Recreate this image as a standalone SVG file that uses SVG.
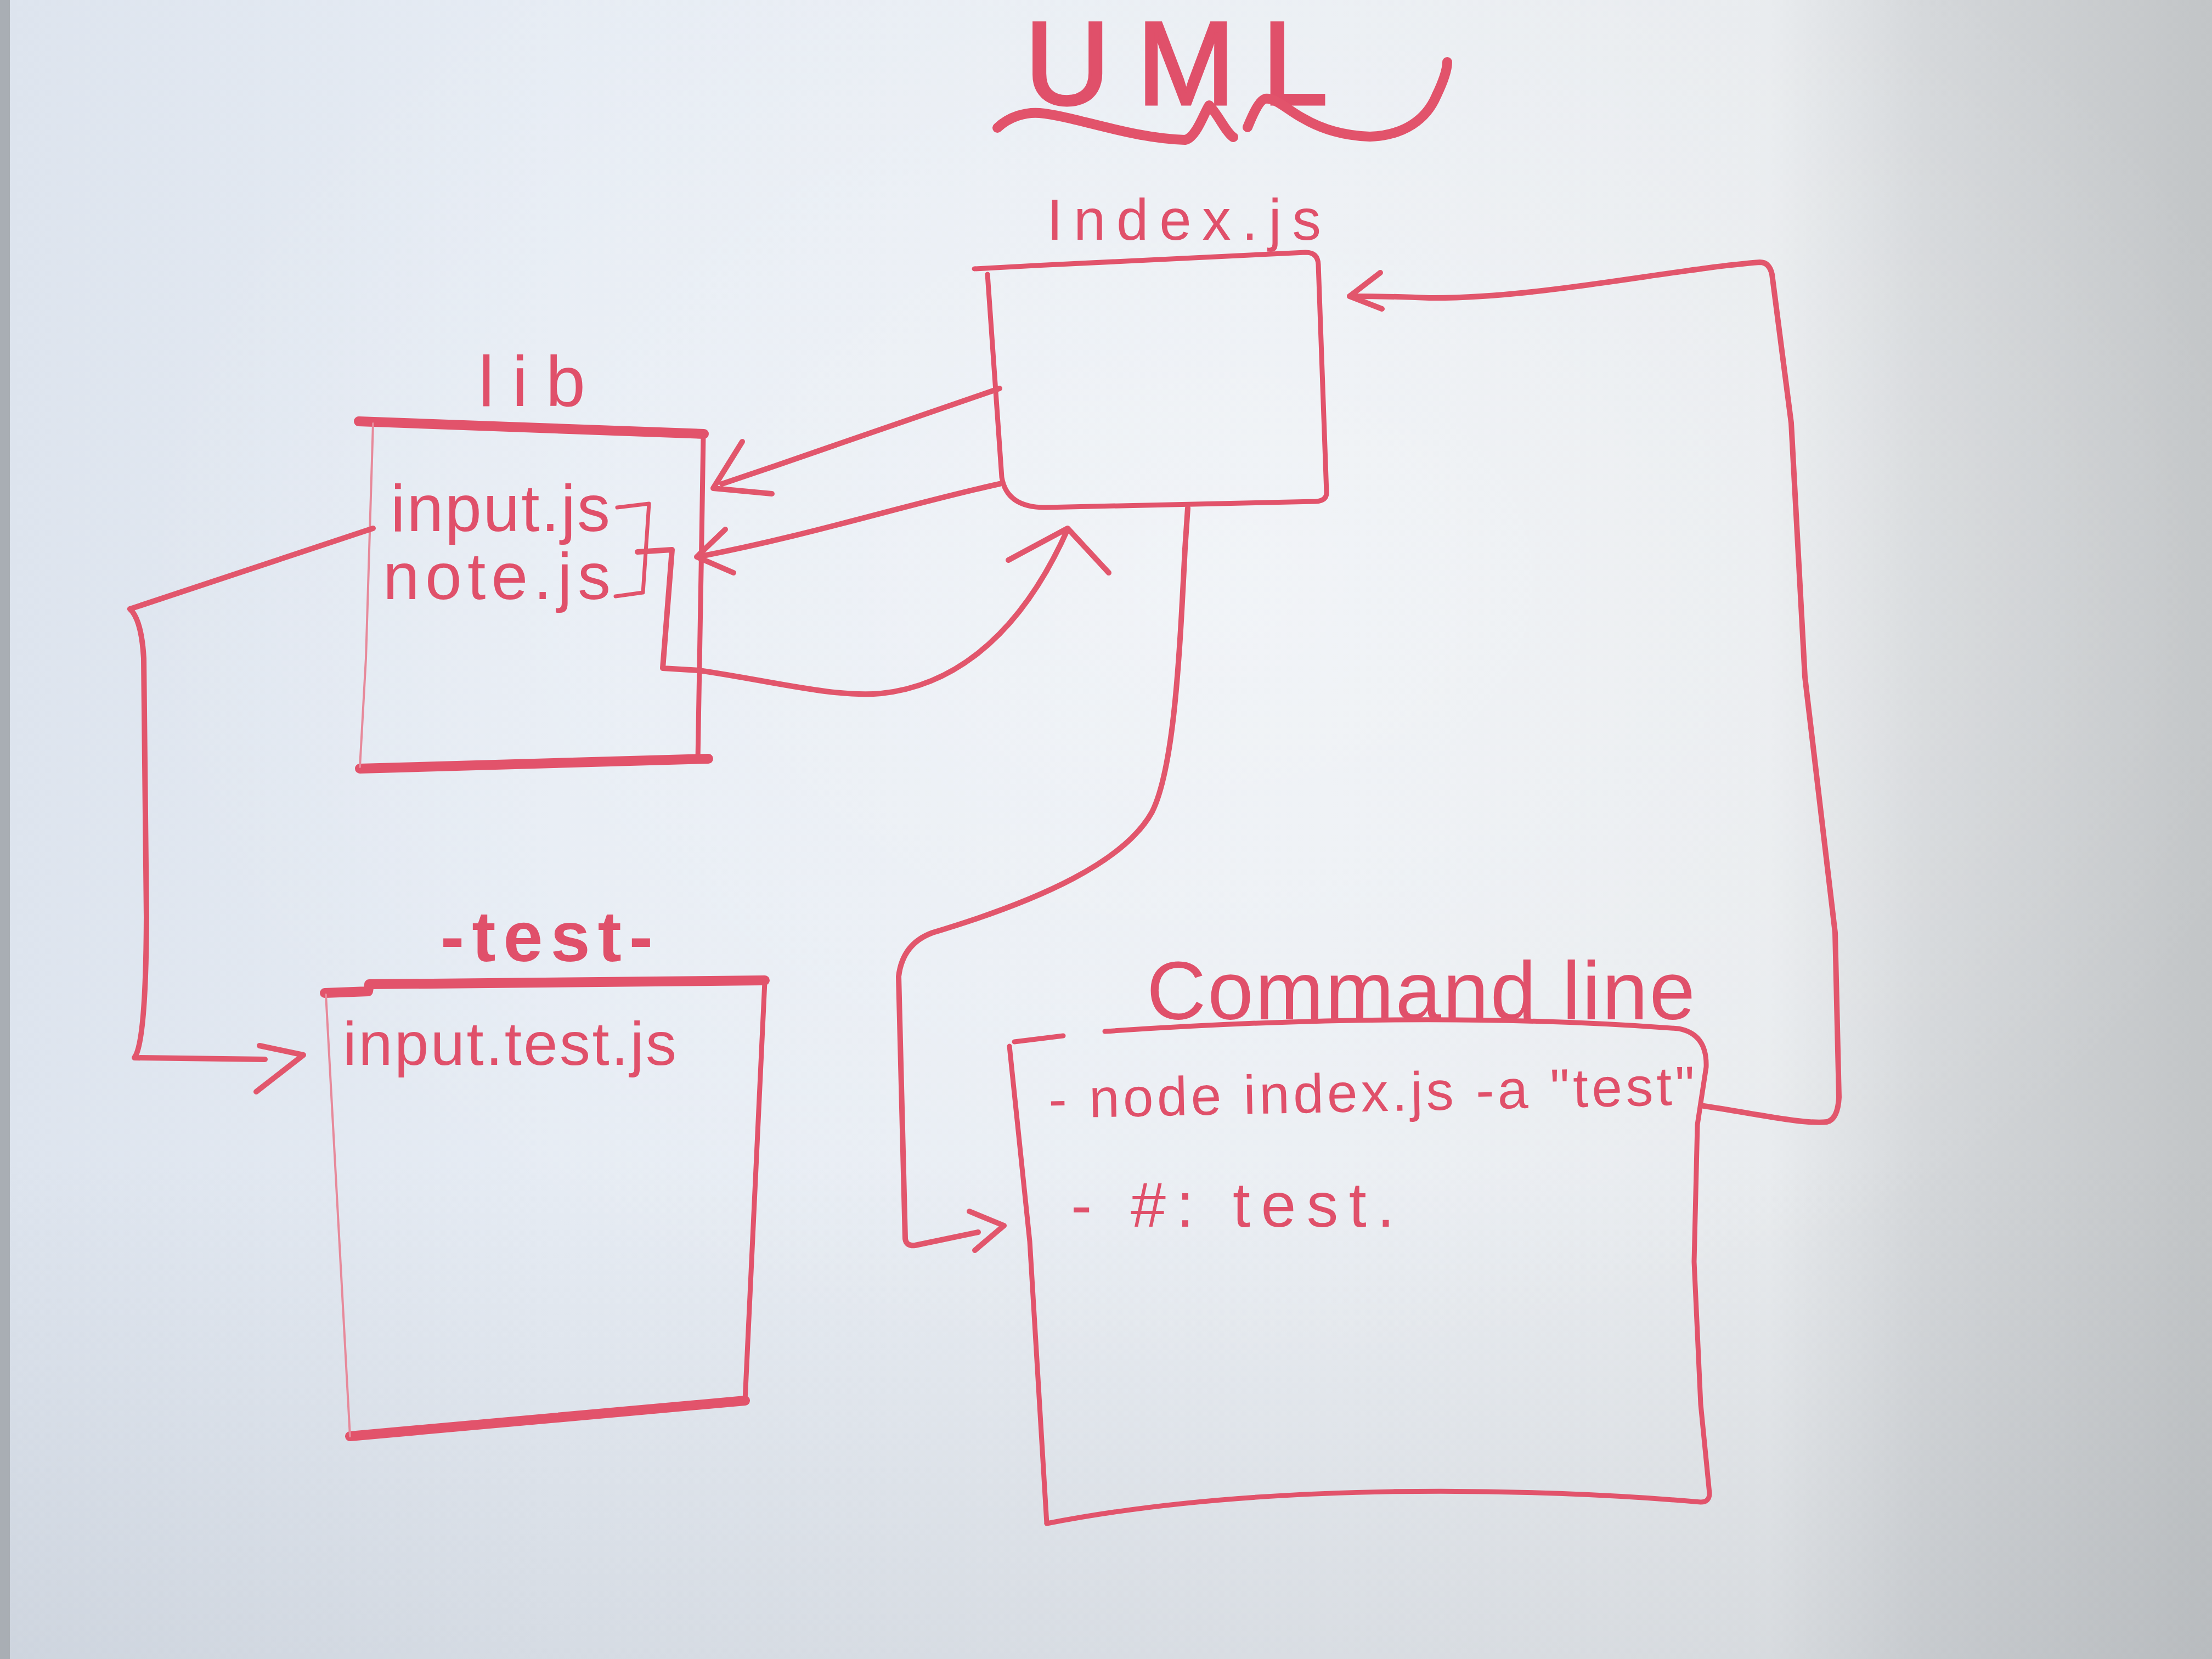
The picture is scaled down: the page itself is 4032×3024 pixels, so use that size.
<svg xmlns="http://www.w3.org/2000/svg" width="4032" height="3024" viewBox="0 0 4032 3024">
<defs>
<linearGradient id="bg" x1="0" y1="0" x2="1" y2="0">
<stop offset="0" stop-color="#dde4ee"/>
<stop offset="0.25" stop-color="#e6ecf4"/>
<stop offset="0.6" stop-color="#eaeef3"/>
<stop offset="0.8" stop-color="#e8ebee"/>
<stop offset="0.87" stop-color="#d4d7da"/>
<stop offset="1" stop-color="#c2c5c7"/>
</linearGradient>
<radialGradient id="glow" cx="0.55" cy="0.35" r="0.5">
<stop offset="0" stop-color="#ffffff" stop-opacity="0.35"/>
<stop offset="1" stop-color="#ffffff" stop-opacity="0"/>
</radialGradient>
<linearGradient id="shade" x1="0" y1="0" x2="0" y2="1">
<stop offset="0.7" stop-color="#8a9098" stop-opacity="0"/>
<stop offset="1" stop-color="#8a9098" stop-opacity="0.18"/>
</linearGradient>
<style>
.ink{fill:none;stroke:#e2536b;stroke-linecap:round;stroke-linejoin:round}
.thick{stroke-width:18}
.med{stroke-width:9}
.thin{stroke-width:4;stroke:#e7899a}
.conn{fill:none;stroke:#e2566c;stroke-width:10;stroke-linecap:round;stroke-linejoin:round}
.hand{font-family:"Liberation Sans","DejaVu Sans",sans-serif;fill:#e0506a}
</style>
</defs>
<rect width="4032" height="3024" fill="url(#bg)"/>
<rect width="4032" height="3024" fill="url(#glow)"/>
<rect width="4032" height="3024" fill="url(#shade)"/>
<rect x="0" y="0" width="18" height="3024" fill="#a9aeb4"/>

<g id="title">
<text class="hand" x="1868" y="190" font-size="215" textLength="552" lengthAdjust="spacing" stroke="#e0506a" stroke-width="5">UML</text>
<path class="ink" stroke-width="18" d="M1818,233 C1840,212 1870,204 1895,206 C1960,212 2060,252 2160,255 C2180,252 2195,205 2204,192 C2220,208 2235,242 2248,250 M2274,232 C2285,205 2296,183 2306,180 C2325,177 2350,203 2376,216 C2400,230 2440,247 2497,249 C2560,247 2600,217 2618,175 C2630,150 2638,128 2638,113"/>
</g>

<g id="node-index">
<text class="hand" x="1908" y="437" font-size="105" textLength="500" lengthAdjust="spacing">Index.js</text>
<path class="ink med" d="M1776,490 C2000,478 2250,465 2380,460 Q2402,460 2403,482 L2418,898 Q2418,913 2398,914 L1905,925 Q1835,925 1826,870 L1800,500"/>
</g>

<g id="node-lib">
<text class="hand" x="872" y="740" font-size="130" textLength="195" lengthAdjust="spacing">lib</text>
<path class="ink thick" d="M654,768 L1283,791"/>
<path class="ink med" d="M1282,792 L1279,983 L1272,1385"/>
<path class="ink thick" d="M656,1401 L1291,1383"/>
<path class="ink thin" d="M680,772 L667,1200 L656,1398"/>
<text class="hand" x="712" y="968" font-size="120" textLength="400" lengthAdjust="spacing">input.js</text>
<text class="hand" x="698" y="1092" font-size="120" textLength="415" lengthAdjust="spacing">note.js</text>
<path class="ink" stroke-width="7" d="M1125,925 L1183,918 L1172,1080 L1122,1087"/>
</g>

<g id="node-test">
<text class="hand" x="803" y="1752" font-size="130" font-weight="bold" textLength="387" lengthAdjust="spacing">-test-</text>
<path class="ink thick" d="M592,1810 L671,1807 L673,1794 L1394,1787"/>
<path class="ink med" d="M1394,1790 L1358,2553"/>
<path class="ink thick" d="M638,2618 L1358,2553"/>
<path class="ink thin" d="M594,1813 L638,2618"/>
<text class="hand" x="625" y="1941" font-size="112" textLength="608" lengthAdjust="spacing">input.test.js</text>
</g>

<g id="node-cmd">
<text class="hand" x="2090" y="1858" font-size="150" textLength="1000" lengthAdjust="spacing">Command line</text>
<path class="ink med" d="M1849,1899 L1938,1888"/>
<path class="ink med" d="M2014,1880 Q2600,1840 3060,1875 Q3112,1885 3110,1945 L3094,2050 L3088,2300 L3100,2560 L3116,2722 Q3116,2738 3100,2738 C2800,2712 2300,2700 1908,2777"/>
<path class="ink med" d="M1840,1907 L1877,2263 L1908,2777"/>
<text class="hand" x="1912" y="2038" font-size="100" textLength="1178" lengthAdjust="spacing" transform="rotate(-1.2 1912 2038)">- node index.js -a "test"</text>
<text class="hand" x="1952" y="2236" font-size="115" textLength="590" lengthAdjust="spacing">- #: test.</text>
</g>

<g id="connectors">
<path class="conn" d="M1822,708 C1700,750 1500,820 1316,882"/>
<path class="conn" d="M1353,805 L1300,890 L1407,900"/>
<path class="conn" stroke-width="14" d="M1822,882 C1650,920 1480,975 1272,1015"/>
<path class="conn" stroke-width="14" d="M1322,965 L1270,1015 L1337,1044"/>
<path class="conn" stroke-width="7" d="M1162,1006 L1225,1002 L1208,1218 L1274,1222 C1400,1240 1520,1272 1606,1264 C1720,1252 1850,1180 1946,965"/>
<path class="conn" stroke-width="8" d="M1838,1021 L1946,963 L2021,1044"/>
<path class="conn" stroke-width="7" d="M680,963 L237,1110"/>
<path class="conn" d="M237,1110 Q258,1130 262,1200 L267,1672 Q266,1900 245,1928 L483,1931"/>
<path class="conn" d="M473,1906 L553,1923 L467,1990"/>
<path class="conn" stroke-width="13" d="M2165,926 L2160,1000 C2150,1200 2140,1400 2100,1480 C2050,1570 1900,1640 1700,1700 Q1645,1720 1638,1780 L1650,2258 Q1652,2272 1668,2270 L1783,2246"/>
<path class="conn" stroke-width="13" d="M1767,2208 L1830,2234 L1777,2279"/>
<path class="conn" stroke-width="8" d="M3100,2015 C3200,2030 3290,2050 3330,2045 Q3350,2040 3352,2000 L3345,1700 L3290,1234 L3265,771 L3230,500 Q3225,478 3208,478 C3050,490 2800,545 2605,543 C2560,541 2520,540 2460,540"/>
<path class="conn" stroke-width="9" d="M2516,497 L2460,540 L2519,563"/>
</g>
</svg>
